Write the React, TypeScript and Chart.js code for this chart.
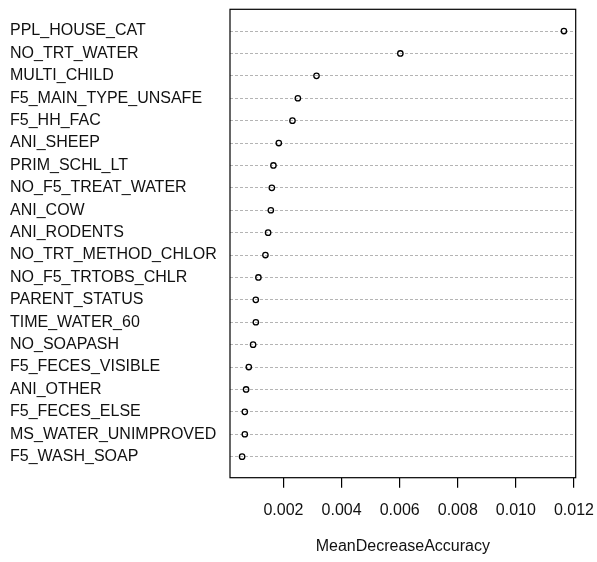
import React, { useEffect, useRef } from "react";
import { Chart, registerables } from "chart.js";

Chart.register(...registerables);

const variables: string[] = [
  "PPL_HOUSE_CAT",
  "NO_TRT_WATER",
  "MULTI_CHILD",
  "F5_MAIN_TYPE_UNSAFE",
  "F5_HH_FAC",
  "ANI_SHEEP",
  "PRIM_SCHL_LT",
  "NO_F5_TREAT_WATER",
  "ANI_COW",
  "ANI_RODENTS",
  "NO_TRT_METHOD_CHLOR",
  "NO_F5_TRTOBS_CHLR",
  "PARENT_STATUS",
  "TIME_WATER_60",
  "NO_SOAPASH",
  "F5_FECES_VISIBLE",
  "ANI_OTHER",
  "F5_FECES_ELSE",
  "MS_WATER_UNIMPROVED",
  "F5_WASH_SOAP",
];

const meanDecreaseAccuracy: number[] = [
  0.011655, 0.006024, 0.003138, 0.002496, 0.00231, 0.00184, 0.001655, 0.0016,
  0.001566, 0.001472, 0.00138, 0.001138, 0.001048, 0.00105, 0.000955,
  0.000807, 0.000714, 0.00067, 0.00067, 0.000576,
];

const xTicks: number[] = [0.002, 0.004, 0.006, 0.008, 0.01, 0.012];
const xTitle = "MeanDecreaseAccuracy";

const FONT = "'Liberation Sans', Arial, sans-serif";

const boxPlugin = {
  id: "boxFrame",
  afterDraw(chart: any) {
    const { ctx, chartArea } = chart;
    ctx.save();
    ctx.strokeStyle = "#000";
    ctx.lineWidth = 1.2;
    ctx.strokeRect(
      chartArea.left,
      chartArea.top,
      chartArea.right - chartArea.left,
      chartArea.bottom - chartArea.top
    );
    ctx.restore();
  },
};

export default function App() {
  const canvasRef = useRef<HTMLCanvasElement | null>(null);

  useEffect(() => {
    if (!canvasRef.current) return;
    const points = meanDecreaseAccuracy.map((v, i) => ({ x: v, y: i + 1 }));
    const chart = new Chart(canvasRef.current, {
      type: "scatter",
      data: {
        datasets: [
          {
            data: points,
            pointStyle: "circle",
            pointRadius: 2.7,
            pointBorderWidth: 1.3,
            pointBorderColor: "#000",
            pointBackgroundColor: "rgba(255,255,255,0)",
            showLine: false,
          },
        ],
      },
      options: {
        animation: false,
        responsive: false,
        devicePixelRatio: 1,
        layout: { padding: { left: 10, top: 9.3, right: 21.3, bottom: 0 } },
        plugins: {
          legend: { display: false },
          tooltip: { enabled: false },
        },
        scales: {
          x: {
            type: "linear",
            min: 0.00016,
            max: 0.01206,
            afterBuildTicks: (scale: any) => {
              scale.ticks = xTicks.map((v) => ({ value: v }));
            },
            afterFit: (scale: any) => {
              scale.height = 84.3;
              scale.paddingLeft = 0;
              scale.paddingRight = 0;
            },
            grid: {
              drawOnChartArea: false,
              drawTicks: true,
              tickLength: 10,
              color: "#000",
              lineWidth: 1.2,
            },
            border: { display: false },
            ticks: {
              autoSkip: false,
              maxRotation: 0,
              padding: 13,
              color: "#111",
              font: { family: FONT, size: 16 },
              callback: (v: any) => Number(v).toFixed(3),
            },
            title: {
              display: true,
              text: xTitle,
              color: "#111",
              font: { family: FONT, size: 16 },
              padding: { top: 0, bottom: 6 },
            },
          },
          y: {
            type: "linear",
            reverse: true,
            min: 0.03,
            max: 20.94,
            afterBuildTicks: (scale: any) => {
              scale.ticks = variables.map((_, i) => ({ value: i + 1 }));
            },
            afterFit: (scale: any) => {
              scale.width = 220;
              scale.paddingTop = 0;
              scale.paddingBottom = 0;
            },
            grid: {
              drawOnChartArea: true,
              drawTicks: false,
              color: "#b4b4b4",
              lineWidth: 1,
            },
            border: { display: false, dash: [3, 2] },
            ticks: {
              autoSkip: false,
              padding: 0,
              crossAlign: "far",
              color: "#111",
              font: { family: FONT, size: 16 },
              callback: (v: any) => variables[Math.round(Number(v)) - 1] ?? "",
            },
          },
        },
      },
      plugins: [boxPlugin],
    } as any);
    return () => chart.destroy();
  }, []);

  return (
    <div style={{ position: "absolute", left: 0, top: 0, width: 597, height: 562, background: "#fff" }}>
      <canvas ref={canvasRef} width={597} height={562} />
    </div>
  );
}
